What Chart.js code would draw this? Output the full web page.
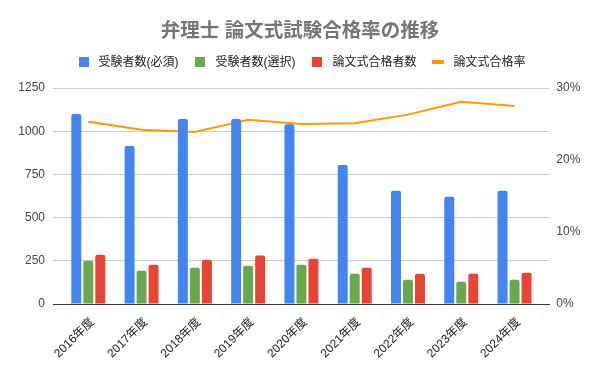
<!DOCTYPE html>
<html>
<head>
<meta charset="utf-8">
<script src="https://cdn.jsdelivr.net/npm/chart.js@4"></script>
<style>
html,body{margin:0;padding:0;background:#fff;}
#wrap{width:600px;height:371px;}
</style>
</head>
<body>
<div id="wrap"><canvas id="c" width="600" height="371"></canvas></div>
<script>
const labels = ['2016年度','2017年度','2018年度','2019年度','2020年度','2021年度','2022年度','2023年度','2024年度'];
const requiredExaminees = [1100, 915, 1070, 1070, 1040, 805, 655, 620, 655];
const electiveExaminees = [250, 193, 210, 222, 227, 175, 141, 129, 141];
const passedCount = [285, 227, 256, 280, 262, 210, 175, 175, 181];
const passRate = [25.3, 24.2, 23.9, 25.6, 25.0, 25.1, 26.3, 28.1, 27.5];
const leftTicks = [0, 250, 500, 750, 1000, 1250];
const rightTicks = [0, 10, 20, 30];

const FONT = '"Liberation Sans", Arial, "Noto Sans CJK JP", sans-serif';
const COLORS = ['#4285F4', '#6AA84F', '#EA4335', '#FF9900'];
const pts = arr => arr.map((v, i) => ({x: i, y: v}));

function legendMarker(color, w, h) {
  const cv = document.createElement('canvas');
  cv.width = w; cv.height = h;
  const cx = cv.getContext('2d');
  cx.fillStyle = color;
  cx.fillRect(0, 0, w, h);
  return cv;
}
const markers = [
  legendMarker(COLORS[0], 10, 10),
  legendMarker(COLORS[1], 10, 10),
  legendMarker(COLORS[2], 10, 10),
  legendMarker(COLORS[3], 12, 4)
];

const barCommon = {
  type: 'bar',
  yAxisID: 'y',
  barPercentage: 0.83,
  categoryPercentage: 0.676,
  borderRadius: {topLeft: 2, topRight: 2, bottomLeft: 0, bottomRight: 0},
  borderSkipped: 'bottom'
};

const legendHeightPlugin = {
  id: 'legendHeight',
  afterInit(chart) {
    const lg = chart.legend;
    if (!lg) return;
    const orig = lg.fit;
    lg.fit = function() {
      orig.call(this);
      this.height = 44.6;
    };
  }
};

new Chart(document.getElementById('c'), {
  data: {
    datasets: [
      Object.assign({}, barCommon, {label: '受験者数(必須)', data: pts(requiredExaminees), backgroundColor: COLORS[0]}),
      Object.assign({}, barCommon, {label: '受験者数(選択)', data: pts(electiveExaminees), backgroundColor: COLORS[1]}),
      Object.assign({}, barCommon, {label: '論文式合格者数', data: pts(passedCount), backgroundColor: COLORS[2]}),
      {
        type: 'line', label: '論文式合格率', data: pts(passRate), yAxisID: 'y1',
        borderColor: COLORS[3], backgroundColor: COLORS[3], borderWidth: 2,
        pointRadius: 0, pointHoverRadius: 0, tension: 0
      }
    ]
  },
  plugins: [legendHeightPlugin],
  options: {
    responsive: false,
    animation: false,
    layout: {padding: {left: 0, right: 0, top: 0, bottom: 0}},
    plugins: {
      title: {
        display: true,
        text: '弁理士 論文式試験合格率の推移',
        color: '#757575',
        font: {family: FONT, size: 19.5, weight: 'bold'},
        padding: {top: 20, bottom: 0}
      },
      legend: {
        display: true,
        labels: {
          color: '#222',
          font: {family: FONT, size: 12},
          usePointStyle: true,
          pointStyleWidth: 18,
          boxWidth: 18,
          boxHeight: 10,
          padding: 13,
          generateLabels: function(chart) {
            const items = Chart.defaults.plugins.legend.labels.generateLabels(chart);
            items.sort((a, b) => a.datasetIndex - b.datasetIndex);
            items.forEach(it => {
              it.pointStyle = markers[it.datasetIndex];
              it.lineWidth = 0;
            });
            return items;
          }
        }
      },
      tooltip: {enabled: false}
    },
    scales: {
      x: {
        type: 'linear',
        min: -0.6625,
        max: 8.652,
        offset: false,
        grid: {display: false},
        border: {display: true, color: '#333', width: 1},
        afterBuildTicks: function(scale) {
          scale.ticks = labels.map((l, i) => ({value: i}));
        },
        ticks: {
          autoSkip: false,
          maxRotation: 45,
          minRotation: 45,
          color: '#222',
          font: {family: FONT, size: 12},
          padding: 3,
          labelOffset: 4,
          callback: function(v) { return labels[v]; }
        },
        afterFit: function(scale) { scale.height = 67; }
      },
      y: {
        type: 'linear',
        position: 'left',
        min: 0,
        max: 1250,
        afterBuildTicks: function(scale) { scale.ticks = leftTicks.map(v => ({value: v})); },
        grid: {color: '#cccccc', drawTicks: false, lineWidth: 1},
        border: {display: false},
        ticks: {color: '#444', font: {family: FONT, size: 12}, padding: 8, callback: v => String(v)},
        afterFit: function(scale) { scale.width = 53; }
      },
      y1: {
        type: 'linear',
        position: 'right',
        min: 0,
        max: 30,
        afterBuildTicks: function(scale) { scale.ticks = rightTicks.map(v => ({value: v})); },
        grid: {display: false, drawTicks: false},
        border: {display: false},
        ticks: {color: '#444', font: {family: FONT, size: 12}, padding: 7, callback: v => v + '%'},
        afterFit: function(scale) { scale.width = 50.7; }
      }
    }
  }
});
</script>
</body>
</html>
